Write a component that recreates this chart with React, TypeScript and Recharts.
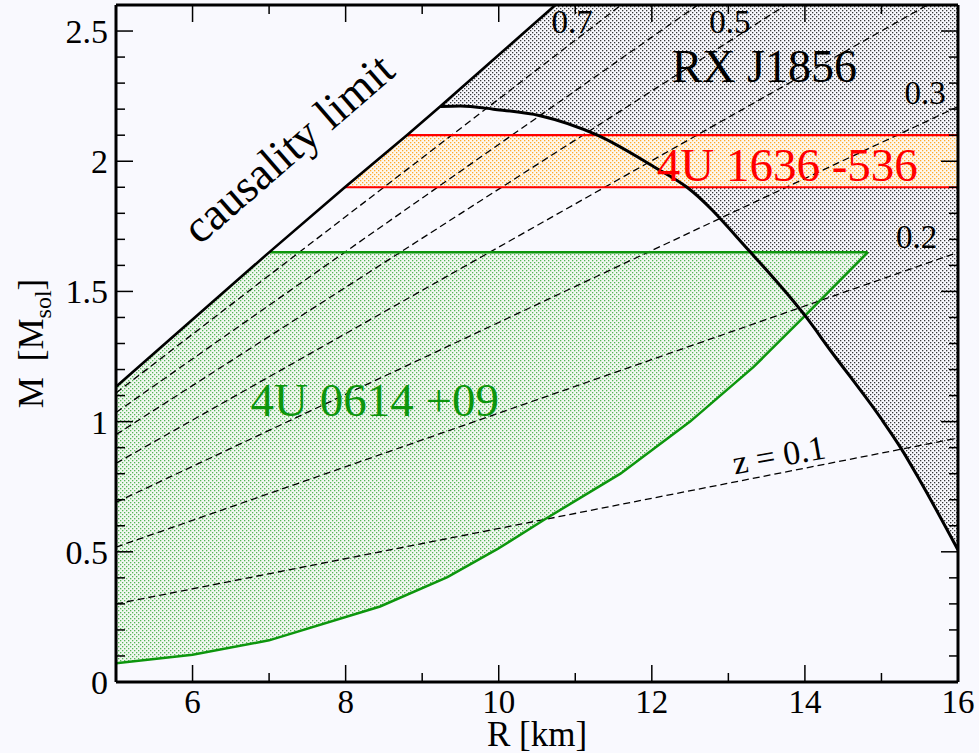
import React from 'react';
import { Area, ComposedChart, Label, Line, Scatter, XAxis, YAxis } from 'recharts';

const FONT = "'Liberation Serif', 'Times New Roman', Times, serif";
const BG = '#f9f9fe';
const RED = '#ff0000';
const GREEN = '#0d960d';

// axis ticks
const xTicks = [5, 6, 7, 8, 9, 10, 11, 12, 13, 14, 15, 16];
const yTicks = [
  0, 0.1, 0.2, 0.3, 0.4, 0.5, 0.6, 0.7, 0.8, 0.9, 1, 1.1, 1.2, 1.3, 1.4, 1.5, 1.6, 1.7, 1.8, 1.9, 2,
  2.1, 2.2, 2.3, 2.4, 2.5,
];

// causality limit (R [km], M [Msol])
const causality = [
  { x: 5, y: 1.134 },
  { x: 7, y: 1.65 },
  { x: 7.99, y: 1.9 },
  { x: 8.8, y: 2.1 },
  { x: 9.235, y: 2.21 },
  { x: 10.74, y: 2.6 },
];

// black M-R curve bounding RX J1856
const rxCurve = [
  { x: 9.235, y: 2.21 },
  { x: 9.5, y: 2.212 },
  { x: 9.93, y: 2.2 },
  { x: 10.54, y: 2.175 },
  { x: 11.29, y: 2.1 },
  { x: 12.02, y: 1.98 },
  { x: 12.46, y: 1.9 },
  { x: 13.29, y: 1.65 },
  { x: 14.02, y: 1.4 },
  { x: 14.33, y: 1.275 },
  { x: 14.99, y: 1.014 },
  { x: 15.25, y: 0.9 },
  { x: 15.51, y: 0.77 },
  { x: 16, y: 0.507 },
];

// 4U 1636-536 band
const bandLow = 1.9;
const bandHigh = 2.1;
const bandLowLine = [
  { x: 7.99, y: 1.9 },
  { x: 16, y: 1.9 },
];
const bandHighLine = [
  { x: 8.8, y: 2.1 },
  { x: 16, y: 2.1 },
];

// 4U 0614+09 region
const greenTop = 1.65;
const greenTopLine = [
  { x: 7, y: 1.65 },
  { x: 14.82, y: 1.65 },
];
const greenCurve = [
  { x: 5, y: 0.072 },
  { x: 6, y: 0.105 },
  { x: 7, y: 0.16 },
  { x: 8.45, y: 0.29 },
  { x: 9.33, y: 0.403 },
  { x: 9.98, y: 0.51 },
  { x: 10.63, y: 0.63 },
  { x: 11.59, y: 0.8 },
  { x: 12.5, y: 1.0 },
  { x: 13.33, y: 1.21 },
  { x: 13.98, y: 1.4 },
  { x: 14.82, y: 1.65 },
];

// constant redshift lines z = 0.1 ... 0.7
const z01 = [{ x: 5, y: 0.3 }, { x: 16, y: 0.937 }];
const z02 = [{ x: 5, y: 0.518 }, { x: 16, y: 1.65 }];
const z03 = [{ x: 5, y: 0.69 }, { x: 16, y: 2.21 }];
const z04 = [{ x: 5, y: 0.84 }, { x: 15.6, y: 2.6 }];
const z05 = [{ x: 5, y: 0.95 }, { x: 13.75, y: 2.6 }];
const z06 = [{ x: 5, y: 1.035 }, { x: 12.6, y: 2.6 }];
const z07 = [{ x: 5, y: 1.11 }, { x: 11.6, y: 2.6 }];
const zLines = [z01, z02, z03, z04, z05, z06, z07];

const yMax = 2.6;

const annotations = [
  { x: 7.25, y: 2.05, text: 'causality limit', color: '#000', size: 46, angle: -41 },
  { x: 13.47, y: 2.362, text: 'RX J1856', color: '#000', size: 46, angle: 0 },
  { x: 13.77, y: 1.985, text: '4U 1636 -536', color: RED, size: 47, angle: 0 },
  { x: 8.38, y: 1.083, text: '4U 0614 +09', color: GREEN, size: 47, angle: 0 },
  { x: 10.96, y: 2.535, text: '0.7', color: '#000', size: 33, angle: 0 },
  { x: 13.02, y: 2.535, text: '0.5', color: '#000', size: 33, angle: 0 },
  { x: 15.57, y: 2.262, text: '0.3', color: '#000', size: 33, angle: 0 },
  { x: 15.46, y: 1.709, text: '0.2', color: '#000', size: 33, angle: 0 },
  { x: 13.66, y: 0.872, text: 'z = 0.1', color: '#000', size: 34, angle: -10 },
];

const greyData = rxCurve.map((p) => ({ x: p.x, v: [p.y, yMax] }));
const bandData = [
  { x: 5, v: [bandLow, bandHigh] },
  { x: 16, v: [bandLow, bandHigh] },
];
const greenData = greenCurve.map((p) => ({ x: p.x, v: [p.y, greenTop] }));
const maskData = causality.map((p) => ({ x: p.x, v: [p.y, yMax] }));

const MAJOR = 17;
const MINOR = 9;

function XTick(props: any) {
  const { x, y, payload, side } = props;
  const v = payload.value;
  const major = v % 2 === 0;
  const len = major ? MAJOR : MINOR;
  const dir = side === 'bottom' ? -1 : 1;
  return (
    <g>
      <line x1={x} x2={x} y1={y} y2={y + dir * len} stroke="#000" strokeWidth={1.5} />
      {side === 'bottom' && major && (
        <text x={x} y={y + 31} textAnchor="middle" fontSize={33} fontFamily={FONT} fill="#000">
          {v}
        </text>
      )}
    </g>
  );
}

function YTick(props: any) {
  const { x, y, payload, side } = props;
  const v = payload.value;
  const major = Math.round(v * 10) % 5 === 0;
  const len = major ? MAJOR : MINOR;
  const dir = side === 'left' ? 1 : -1;
  return (
    <g>
      <line x1={x} x2={x + dir * len} y1={y} y2={y} stroke="#000" strokeWidth={1.5} />
      {side === 'left' && major && (
        <text x={x - 8} y={y + 12} textAnchor="end" fontSize={34} fontFamily={FONT} fill="#000">
          {String(v)}
        </text>
      )}
    </g>
  );
}

function renderAnnotation(props: any) {
  const { cx, cy } = props;
  const a = props.payload ?? props;
  return (
    <text
      x={cx}
      y={cy}
      textAnchor="middle"
      dominantBaseline="central"
      fontSize={a.size}
      fontFamily={FONT}
      fill={a.color}
      transform={a.angle ? `rotate(${a.angle} ${cx} ${cy})` : undefined}
    >
      {a.text}
    </text>
  );
}

function XLabel(props: any) {
  const vb = props.viewBox;
  return (
    <text x={vb.x + vb.width / 2} y={vb.y + 64} textAnchor="middle" fontSize={35} fontFamily={FONT} fill="#000">
      R [km]
    </text>
  );
}

function YLabel(props: any) {
  const vb = props.viewBox;
  const cy = vb.y + vb.height / 2;
  return (
    <text
      transform={`translate(${vb.x + 43} ${cy}) rotate(-90)`}
      textAnchor="middle"
      fontSize={35}
      fontFamily={FONT}
      fill="#000"
    >
      <tspan>M</tspan>
      <tspan dx={16}>[M</tspan>
      <tspan fontSize={24} dy={8}>sol</tspan>
      <tspan dy={-8}>]</tspan>
    </text>
  );
}

export default function App() {
  return (
    <div style={{ position: 'absolute', left: 0, top: 0, width: 979, height: 753, background: BG }}>
      <ComposedChart width={979} height={753} margin={{ top: 0, right: 0, bottom: 0, left: 0 }}>
        <defs>
          <pattern id="greyDots" width="4" height="4" patternUnits="userSpaceOnUse">
            <rect width="4" height="4" fill={BG} />
            <rect x="0" y="0" width="1.3" height="1.3" fill="#3a3a3a" />
            <rect x="2" y="2" width="1.3" height="1.3" fill="#3a3a3a" />
          </pattern>
          <pattern id="orangeDots" width="4" height="4" patternUnits="userSpaceOnUse">
            <rect width="4" height="4" fill="#fdf7ee" />
            <rect x="0" y="0" width="1.3" height="1.3" fill="#ffaa2a" />
            <rect x="2" y="2" width="1.3" height="1.3" fill="#ffaa2a" />
          </pattern>
          <pattern id="greenDots" width="4" height="4" patternUnits="userSpaceOnUse">
            <rect width="4" height="4" fill="#f1f8f1" />
            <rect x="0" y="0" width="1.3" height="1.3" fill="#55b555" />
            <rect x="2" y="2" width="1.3" height="1.3" fill="#55b555" />
          </pattern>
        </defs>

        <Area data={greyData} dataKey="v" type="monotone" stroke="none" fill="url(#greyDots)" fillOpacity={1} isAnimationActive={false} activeDot={false} />
        <Area data={bandData} dataKey="v" type="linear" stroke="none" fill="url(#orangeDots)" fillOpacity={1} isAnimationActive={false} activeDot={false} />
        <Area data={greenData} dataKey="v" type="linear" stroke="none" fill="url(#greenDots)" fillOpacity={1} isAnimationActive={false} activeDot={false} />
        <Area data={maskData} dataKey="v" type="linear" stroke="none" fill={BG} fillOpacity={1} isAnimationActive={false} activeDot={false} />

        {zLines.map((d, i) => (
          <Line key={`z${i}`} data={d} dataKey="y" type="linear" stroke="#000" strokeWidth={1.3} strokeDasharray="7 4" dot={false} activeDot={false} isAnimationActive={false} />
        ))}
        <Line data={bandLowLine} dataKey="y" type="linear" stroke={RED} strokeWidth={2.2} dot={false} activeDot={false} isAnimationActive={false} />
        <Line data={bandHighLine} dataKey="y" type="linear" stroke={RED} strokeWidth={2.2} dot={false} activeDot={false} isAnimationActive={false} />
        <Line data={greenTopLine} dataKey="y" type="linear" stroke={GREEN} strokeWidth={2.5} dot={false} activeDot={false} isAnimationActive={false} />
        <Line data={greenCurve} dataKey="y" type="linear" stroke={GREEN} strokeWidth={2.5} dot={false} activeDot={false} isAnimationActive={false} />
        <Line data={rxCurve} dataKey="y" type="monotone" stroke="#000" strokeWidth={3} dot={false} activeDot={false} isAnimationActive={false} />
        <Line data={causality} dataKey="y" type="linear" stroke="#000" strokeWidth={2.6} dot={false} activeDot={false} isAnimationActive={false} />

        <Scatter data={annotations} dataKey="y" shape={renderAnnotation} isAnimationActive={false} />

        <XAxis
          dataKey="x"
          type="number"
          domain={[5, 16]}
          allowDataOverflow
          ticks={xTicks}
          interval={0}
          height={71}
          tickSize={0}
          tickMargin={0}
          tickLine={false}
          axisLine={{ stroke: '#000', strokeWidth: 3 }}
          tick={(p: any) => <XTick {...p} side="bottom" />}
        >
          <Label content={XLabel} />
        </XAxis>
        <XAxis
          xAxisId="top"
          orientation="top"
          dataKey="x"
          type="number"
          domain={[5, 16]}
          allowDataOverflow
          ticks={xTicks}
          interval={0}
          height={5}
          tickSize={0}
          tickMargin={0}
          tickLine={false}
          axisLine={{ stroke: '#000', strokeWidth: 3 }}
          tick={(p: any) => <XTick {...p} side="top" />}
        />
        <YAxis
          type="number"
          domain={[0, 2.6]}
          allowDataOverflow
          ticks={yTicks}
          interval={0}
          width={116}
          tickSize={0}
          tickMargin={0}
          tickLine={false}
          axisLine={{ stroke: '#000', strokeWidth: 3 }}
          tick={(p: any) => <YTick {...p} side="left" />}
        >
          <Label content={YLabel} />
        </YAxis>
        <YAxis
          yAxisId="right"
          orientation="right"
          type="number"
          domain={[0, 2.6]}
          allowDataOverflow
          ticks={yTicks}
          interval={0}
          width={21}
          tickSize={0}
          tickMargin={0}
          tickLine={false}
          axisLine={{ stroke: '#000', strokeWidth: 3 }}
          tick={(p: any) => <YTick {...p} side="right" />}
        />
      </ComposedChart>
    </div>
  );
}
